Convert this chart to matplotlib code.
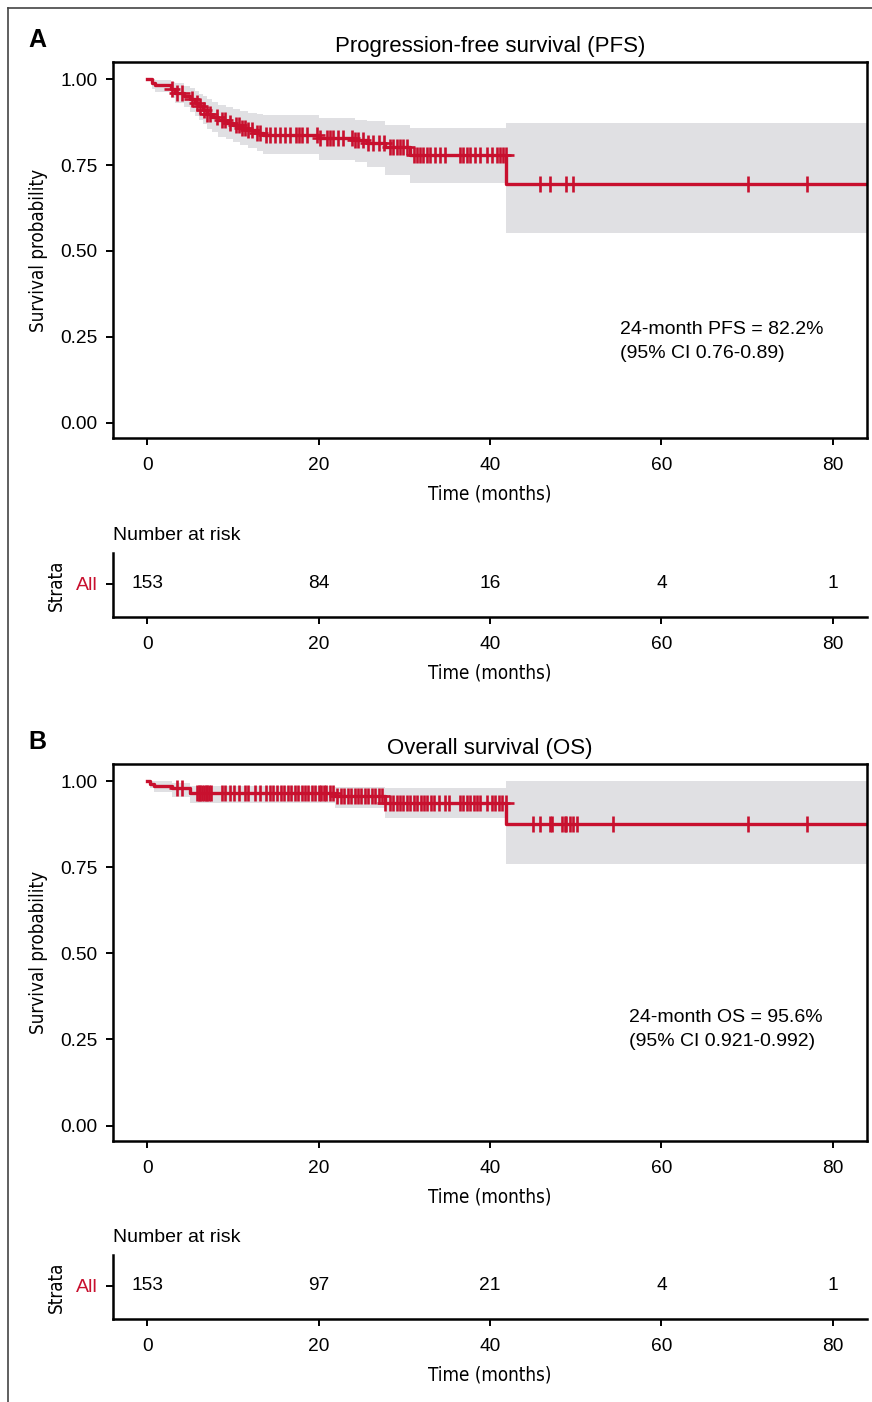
import numpy as np
import matplotlib
matplotlib.use("Agg")
import matplotlib.pyplot as plt
from matplotlib.lines import Line2D

plt.rcParams['font.family'] = ['Liberation Sans', 'DejaVu Sans']

RED = '#c8102e'
BAND = '#e0e0e3'
NARROW = dict(family='DejaVu Sans', stretch='condensed')

# ---- PFS ----
pfs_t = [0, 0.5, 0.9, 2.8, 3.2, 4.3, 5.0, 5.6, 6.0, 6.5, 7.0, 7.6, 8.3, 9.2, 10.0,
         10.8, 11.8, 12.8, 13.5, 20.0, 24.3, 25.7, 27.8, 30.7, 41.9]
pfs_s = [1.0, 0.990, 0.983, 0.970, 0.961, 0.951, 0.941, 0.931, 0.921, 0.911, 0.900,
         0.890, 0.880, 0.873, 0.866, 0.858, 0.851, 0.843, 0.837, 0.828, 0.822, 0.815,
         0.802, 0.778, 0.695]
pfs_hi = [1.0, 1.0, 0.998, 0.992, 0.988, 0.980, 0.973, 0.966, 0.958, 0.950, 0.942,
          0.934, 0.926, 0.920, 0.914, 0.908, 0.902, 0.898, 0.895, 0.887, 0.882, 0.877,
          0.866, 0.858, 0.872]
pfs_lo = [1.0, 0.970, 0.962, 0.944, 0.931, 0.918, 0.905, 0.893, 0.880, 0.868, 0.856,
          0.845, 0.833, 0.825, 0.817, 0.808, 0.799, 0.790, 0.782, 0.765, 0.758, 0.744,
          0.721, 0.698, 0.552]
pfs_cens = [2.9, 3.5, 4.0, 5.2, 5.8, 6.2, 6.6, 7.0, 7.35, 8.1, 8.7, 9.1, 9.7, 10.3,
            10.65, 11.0, 11.4, 11.8, 12.2, 12.8, 13.2, 13.8, 14.3, 14.9, 15.5, 16.1,
            16.7, 17.3, 17.7, 18.0, 18.6, 19.8, 20.2, 20.95, 21.3, 21.7, 22.3, 22.9,
            23.9, 24.3, 24.6, 25.2, 25.8, 26.4, 27.0, 27.6, 28.3, 28.7, 29.1, 29.5,
            29.9, 30.3, 31.1, 31.45, 31.8, 32.2, 32.6, 33.0, 33.6, 34.2, 34.75, 36.5,
            36.9, 37.3, 37.7, 38.2, 38.8, 39.6, 40.2, 40.8, 41.2, 41.55, 41.85,
            45.8, 47.0, 48.9, 49.7, 70.1, 77.0]
pfs_risk = [153, 84, 16, 4, 1]

# ---- OS ----
os_t = [0, 0.3, 0.8, 2.9, 5.0, 21.9, 27.8, 41.9]
os_s = [1.0, 0.993, 0.987, 0.980, 0.967, 0.956, 0.937, 0.876]
os_hi = [1.0, 1.0, 1.0, 0.995, 0.987, 0.984, 0.979, 1.0]
os_lo = [1.0, 0.980, 0.970, 0.955, 0.938, 0.922, 0.893, 0.761]
os_cens = [3.5, 4.0, 5.8, 6.0, 6.2, 6.4, 6.6, 6.8, 7.0, 7.2, 7.4, 8.7, 9.1, 9.7, 10.1,
           10.7, 11.4, 11.8, 12.6, 13.2, 13.8, 14.3, 14.7, 15.1, 15.6, 16.0, 16.4,
           16.8, 17.2, 17.6, 18.0, 18.4, 18.8, 19.2, 19.6, 20.0, 20.3, 20.6, 20.9,
           21.3, 21.7, 22.2, 22.6, 23.0, 23.4, 23.8, 24.2, 24.6, 25.0, 25.4, 25.8,
           26.2, 26.6, 27.0, 27.4, 27.8, 28.3, 28.7, 29.1, 29.5, 29.9, 30.3, 30.7,
           31.1, 31.5, 31.9, 32.3, 32.7, 33.1, 33.5, 34.0, 34.8, 35.2, 36.5, 36.9,
           37.3, 37.7, 38.1, 38.5, 38.8, 39.6, 40.2, 40.6, 41.0, 41.4, 41.85,
           45.05, 45.8, 47.0, 47.2, 48.4, 48.7, 48.9, 49.3, 49.7, 50.2, 54.3, 70.1, 77.0]
os_risk = [153, 97, 21, 4, 1]

follow_end = 84
risk_times = [0, 20, 40, 60, 80]
xticks = [0, 20, 40, 60, 80]
yticks = [0.0, 0.25, 0.5, 0.75, 1.0]
ytick_labels = ['0.00', '0.25', '0.50', '0.75', '1.00']

W, H = 872, 1402
fig = plt.figure(figsize=(W / 100, H / 100), dpi=100)


def box(l, t, r, b):
    return [l / W, 1 - b / H, (r - l) / W, (b - t) / H]


def style(ax):
    for s in ax.spines.values():
        s.set_linewidth(1.8)
    ax.tick_params(axis='both', width=1.4, length=5, labelsize=13.8, pad=6)
    ax.tick_params(axis='x', pad=9)
    ax.set_xlim(-4, 84)
    ax.set_xticks(xticks)


def km_panel(ax, t, s, hi, lo, cens, title, txt1, txt2, tx, ty):
    tt = list(t) + [follow_end]
    ax.fill_between(tt, list(lo) + [lo[-1]], list(hi) + [hi[-1]], step='post',
                    color=BAND, lw=0)
    ax.step(tt, list(s) + [s[-1]], where='post', color=RED, lw=2.4)
    idx = np.searchsorted(t, cens, side='right') - 1
    ax.plot(cens, np.array(s)[idx], ls='none', marker='+', ms=11, mew=1.9, color=RED)
    style(ax)
    ax.set_ylim(-0.045, 1.05)
    ax.set_yticks(yticks)
    ax.set_yticklabels(ytick_labels)
    ax.set_title(title, fontsize=16, pad=7)
    ax.set_xlabel('Time (months)', fontsize=13.5, labelpad=7, **NARROW)
    ax.set_ylabel('Survival probability', fontsize=13.5, labelpad=9, **NARROW)
    ax.text(tx, ty, txt1, fontsize=14, va='center')
    ax.text(tx, ty - 0.07, txt2, fontsize=14, va='center')


def risk_panel(ax, counts):
    style(ax)
    ax.spines['top'].set_visible(False)
    ax.spines['right'].set_visible(False)
    ax.set_ylim(0, 1)
    ax.set_yticks([0.52])
    ax.set_yticklabels(['All'], color=RED, fontsize=14)
    for x, n in zip(risk_times, counts):
        ax.text(x, 0.52, str(n), ha='center', va='center', fontsize=13.8)
    ax.set_xlabel('Time (months)', fontsize=13.5, labelpad=7, **NARROW)
    ax.set_ylabel('Strata', fontsize=13.5, labelpad=7, **NARROW)
    ax.text(0, 1.27, 'Number at risk', transform=ax.transAxes, fontsize=14, va='center')


ax1 = fig.add_axes(box(113, 62, 867, 438))
km_panel(ax1, pfs_t, pfs_s, pfs_hi, pfs_lo, pfs_cens, 'Progression-free survival (PFS)',
         '24-month PFS = 82.2%', '(95% CI 0.76-0.89)', 55.2, 0.272)
ax2 = fig.add_axes(box(113, 553, 867, 617))
risk_panel(ax2, pfs_risk)

ax3 = fig.add_axes(box(113, 764, 867, 1141))
km_panel(ax3, os_t, os_s, os_hi, os_lo, os_cens, 'Overall survival (OS)',
         '24-month OS = 95.6%', '(95% CI 0.921-0.992)', 56.2, 0.313)
ax4 = fig.add_axes(box(113, 1255, 867, 1319))
risk_panel(ax4, os_risk)

fig.text(37 / W, 1 - 40 / H, 'A', fontsize=18, weight='bold', ha='center', va='center')
fig.text(37 / W, 1 - 742 / H, 'B', fontsize=18, weight='bold', ha='center', va='center')

# outer frame (top and left)
fig.add_artist(Line2D([8 / W, 8 / W], [0, 1 - 8 / H], color='#444444', lw=1.2))
fig.add_artist(Line2D([8 / W, 1], [1 - 8 / H, 1 - 8 / H], color='#444444', lw=1.2))

fig.savefig('out.png', dpi=100)
